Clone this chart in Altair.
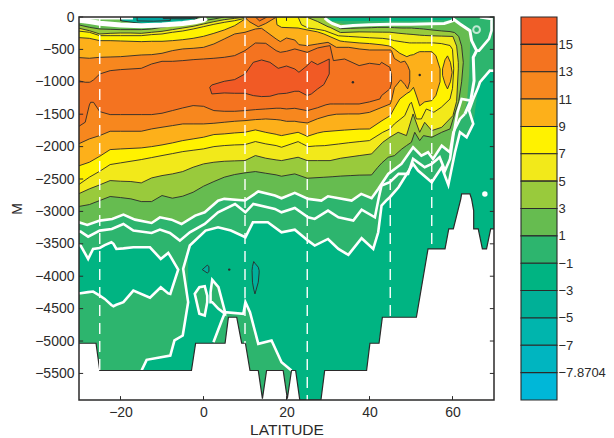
import json
import altair as alt
import pandas as pd

FONT = "Liberation Sans"
DARK = "#2b2a2a"
YMIN = -5910

C_M1 = "#00B482"; C_1 = "#2DB56E"; C_3 = "#66BC50"; C_5 = "#99CA3C"; C_7 = "#F2E91A"
C_9 = "#FFF200"; C_11 = "#FDB01A"; C_13 = "#F7871E"; C_15 = "#F47320"; C_T = "#F15A25"

BAR_COLORS = [C_T, C_15, C_13, C_11, C_9, C_7, C_5, C_3, C_1, C_M1, "#00B097", "#00B5AD", "#00B5C0", "#00B7D8"]
BAR_LABELS = ["15", "13", "11", "9", "7", "5", "3", "1", "−1", "−3", "−5", "−7", "−7.8704"]

X_TICKS = [-20, 0, 20, 40, 60]
Y_TICKS = [0, -500, -1000, -1500, -2000, -2500, -3000, -3500, -4000, -4500, -5000, -5500]

# ---- >-1 water
W_LAT = [-31,-15,-14.7,-13.7,-8,-7,-5,-3.8,-3.7,-3.3,0.5,3.5,6.6,10.1,11.9,15.5,18.8,22,25.2,26.8,30,32.5,34.9,38.1,40.9,42.1,42.9,44.9,47,50.5,51.7,55,57.4,59,60.6,61.8,63.4,65,66.2,69,71]
W_BOT = [5910,5910,5450,5290,5224,4990,4915,4400,3600,3527,3296,3245,3296,3399,3168,3168,3322,3281,3451,3527,3425,3579,3671,3414,3579,3322,2911,2781,2627,2267,2370,2550,2319,2591,2087,1779,1856,1650,1085,827,830]

# ---- cold loop on the left
L_LAT = [-31,-29.6,-27.8,-26.6,-25,-23.8,-22.2,-21.7,-21,-19.3,-16.9,-12.9,-10.3,-8.5,-8,-6.1]
L_TOP = [3500,3528,3733,3579,3564,3520,3476,3500,3579,3570,3553,3553,3733,3641,3690,3898]
L_BOT = [4260,4263,4245,4237,4300,4350,4445,4463,4440,4401,4221,4330,4170,4265,4273,3898]

# ---- lower warm patch
P_LAT = [2.4,4.4,5.2,9.6,10.1,11.2,13.2,16.4,18.8,21.2,22]
P_TOP = [5018,4684,4556,4581,4400,4556,5044,4993,5327,5455,5500]
P2_LAT = [-2.1,-1,0.3,0.9]
P2_TOP = [4270,4170,4155,4300]
P2_BOT = [4270,4580,4607,4400]
P3_LAT = [1.7,2.1,3.6,5.2]
P3_TOP = [4247,4057,4170,4556]
P3_BOT = [4400,4401,4504,4581]

# ---- contour T1
T1_LAT = [-31,-28,-25,-22,-19.3,-16.5,-12.5,-10.5,-7.7,-5.3,-2,0.3,3.5,5,10,13.2,17.2,18.8,22,25.2,28.4,30,35.7,38,40.5,42.1,44.5,47.7,50.5,52.5,54.1,55.3,57.4,59.4,60.2,61.8,62.6,63.5,64,64.3]
T1_TOP = [0,0,0,0,0,0,0,0,0,0,0,0,0,0,0,0,0,0,0,0,0,60,130,130,120,110,110,110,100,100,100,100,100,70,30,108,140,180,210,220]
T1_BOT = [3168,3209,3142,3116,3050,3127,3178,3091,3127,3194,3065,3014,2834,2806,2832,2693,2755,2797,2714,2807,2833,2766,2833,2730,2797,2653,2422,2267,2010,2139,2087,2190,1985,2087,1779,1573,1522,1300,900,300]

T3_LAT = [-31,-27.5,-25,-22.5,-20,-17.5,-15,-12.5,-10,-7.5,-5,-2.5,0,2.5,5,7.5,10,12.5,15,17.5,18.8,22,25,29,31,33,35.5,37.5,40.5,42,43,44.5,46,47.8,48.9,50.1,50.9,52.1,53,55,57.4,59.4,60.5,61.5,62.2,62.6]
T3_TOP = [108,159,185,190,195,195,195,185,159,134,113,93,57,31,0,0,0,0,0,0,0,0,0,0,100,180,175,170,165,160,160,160,165,170,170,170,175,180,185,200,215,225,240,300,450,700]
T3_BOT = [2935,2894,2832,2770,2786,2806,2848,2848,2755,2796,2765,2704,2611,2539,2472,2431,2405,2385,2411,2436,2457,2421,2488,2473,2465,2455,2447,2440,2437,2319,2250,2165,2139,2036,1985,1933,1779,1907,1830,1856,1779,1727,1500,1300,1000,700]

T5_LAT = [-31,-27.5,-25,-22.5,-20,-17.5,-15,-12.5,-10,-7.5,-5,-2.5,0,2.5,5,7.5,10,12.5,15,17.5,18.8,22.8,25,27.5,30,30.5,33,37.5,40.5,43.2,44.9,46.9,48.9,50.5,52.1,53.3,55,57.4,60.1,61,61.4]
T5_TOP = [159,211,262,252,247,247,252,236,221,195,170,144,108,72,41,21,5,0,0,0,0,0,5,70,150,160,240,230,232,234,235,250,262,270,280,285,290,295,300,450,700]
T5_BOT = [2755,2652,2590,2524,2534,2539,2560,2483,2447,2421,2385,2318,2267,2241,2226,2220,2215,2138,2179,2205,2216,2164,2216,2216,2216,2216,2180,2139,2113,1933,1856,1779,1830,1496,1779,1625,1753,1702,1522,1300,800]

T7_LAT = [-31,-27.5,-25,-22.5,-20,-15,-12.5,-10,-7.5,-5,-2.5,0,2.5,5,7.5,10,12.5,15,17.5,18.8,22.8,23.6,25.2,27,29.2,32.5,35,37.5,40,43.2,44.9,46,48.5,49.7,50.1,51.3,52.5,53.7,55.5,57.3,59.4,60,60.3]
T7_TOP = [211,236,288,288,288,288,272,262,236,216,185,149,113,82,57,21,0,0,0,0,0,120,170,185,210,290,300,310,320,330,345,365,390,400,400,400,400,400,400,410,440,500,800]
T7_BOT = [2627,2472,2380,2277,2251,2200,2169,2138,2108,2077,2056,2035,2000,1984,1974,1969,1922,1958,1984,2010,1923,1950,2000,1990,1985,1960,1940,1923,1907,1779,1728,1650,1522,1343,1315,1573,1573,1419,1470,1393,1265,1100,800]

T9_LAT = [-31,-27.5,-25,-22.5,-20,-15,-12.5,-10,-7.5,-5,-2.5,0,2.5,5,7.5,10,12.5,15,17.5,17.7,18.8,22.8,25,27.5,29,32.9,34,37.5,40,43,45,46.1,47.3,49,49.8,50.6,51.5,52.1,53.3,55,56,57]
T9_TOP = [314,329,365,365,370,380,375,375,365,350,329,298,252,200,134,31,0,0,0,120,160,170,200,230,262,370,380,400,410,430,450,500,560,612,590,581,550,535,535,535,596,800]
T9_BOT = [2318,2241,2149,2046,2036,2020,2000,1974,1943,1907,1881,1855,1814,1804,1789,1778,1742,1780,1810,1815,1830,1779,1841,1790,1770,1750,1745,1730,1728,1600,1522,1393,1265,1180,1150,1085,1250,1370,1310,1290,1210,1000]

T9B_LAT = [57.6,58.2,58.8,59.5,59.9]
T9B_TOP = [800,660,600,700,850]
T9B_BOT = [900,1030,1110,1000,860]

T11_LAT = [-31,-27.5,-25,-22.5,-20,-15,-12.5,-10,-7.5,-5,-2.5,0,2.5,5,7.5,10,12.5,14,15,17.5,18.5,20,22,23,25,27.5,30,32,35,37.5,40,45,45.3,46,47.5,48.5,49.2,49.7]
T11_TOP = [622,637,622,617,612,586,581,560,519,493,483,468,416,339,262,236,185,175,221,339,380,324,355,427,442,416,391,468,468,493,509,509,520,640,700,680,750,830]
T11_BOT = [1984,1881,1830,1763,1763,1763,1727,1701,1676,1650,1650,1650,1640,1624,1609,1599,1583,1578,1573,1583,1590,1610,1609,1620,1635,1570,1522,1500,1496,1496,1471,1342,1290,1090,970,1040,1110,1000]

T11B_LAT = [10,11,13.2,15,17.6]
T11B_BOT = [5,70,150,100,0]
T13B_LAT = [12.5,13.5,15.3]
T13B_BOT = [0,60,0]

T13_LAT = [-31,-28.5,-27.5,-27.2,-26.5,-25,-22.5,-20,-15,-12.5,-10,-7.5,-5,-2.5,0,2.5,5,7.5,10,12.5,15,17.5,18.5,20,22,25,27.5,29.5,30.5,31.3,34,37.5,40,42.5,42.9,44.9,45.3]
T13_TOP = [971,1007,1007,1000,971,879,828,812,792,725,684,684,673,658,648,637,622,596,519,401,406,519,545,529,493,545,478,452,442,673,648,750,714,735,699,776,900]
T13_BOT = [1727,1624,1357,1316,1316,1460,1506,1506,1506,1506,1485,1444,1403,1367,1378,1444,1455,1455,1444,1429,1419,1408,1408,1419,1409,1445,1400,1355,1342,1342,1342,1342,1310,1265,1213,1110,1020]

T15_LAT = [1.5,2,5,7.5,10,12,14,16,18,20,22,23,25,26,27.5,29,30.3]
T15_TOP = [1085,1049,992,966,879,699,663,699,792,756,802,853,750,684,735,689,648]
T15_BOT = [1085,1187,1172,1177,1177,1213,1228,1223,1187,1177,1146,1146,1213,1187,1110,1043,879]

# ---- cold surface patches and small deep patches
S1_LAT = [-19.8,-15,-10.5,-6,-1.7]
S1_BOT = [60,100,110,90,40]
S2_LAT = [-16,-12,-8]
S2_BOT = [60,65,55]
S3_LAT = [-9.7,-5,-1.3]
S3_BOT = [25,30,15]
S4_LAT = [30.5,40,50,60]
S4_BOT = [60,60,60,40]
D1_LAT = [-0.3,0.9,1.3]
D1_TOP = [3898,3830,3850]
D1_BOT = [3898,3950,3930]
D2_LAT = [11.7,11.8,12.1,12.4,13.2,13.4]
D2_TOP = [3913,3850,3774,3800,3861,3913]
D2_BOT = [3913,4093,4200,4273,4093,3950]
DOT_LAT = [36, 52.1, 6.2]
DOT_DEP = [1007, 894, 3898]

# ---- white contours
W0_LAT = [-30.5,-27.5,-25,-20,-15,-10,-5,-2,0,0.7]
W0_DEP = [45,70,95,125,135,125,100,75,45,15]
W0B_LAT = [-30,-17]
W0B_DEP = [15,15]
W0C_LAT = [29.2,30,31,33,36,40,45,50,55,58,60,60.2,61.8,64.2,64.6,65.8,65,65.2,64.4,63]
W0C_DEP = [15,60,100,150,130,120,110,110,105,100,60,31,108,211,365,519,622,982,1290,1496]
W0D_LAT = [65.8,66.4,68.8,69.4,69.4,66.6]
W0D_DEP = [519,519,339,211,31,5]
W1_LAT = [-31,-30,-28,-25,-22,-19.3,-16.5,-12.5,-10.5,-7.7,-5.3,-2,0.3,3.5,5,10,13.2,17.2,18.8,22,25.2,28.4,30,35.7,38,40.5,42.1,44.5,47.7,50.5,52.5,54.1,55.3,57.4,59.4,60.2,61.8,63]
W1_DEP = [3168,3168,3209,3142,3116,3050,3127,3178,3091,3127,3194,3065,3014,2834,2806,2832,2693,2755,2797,2714,2807,2833,2766,2833,2730,2797,2653,2422,2267,2010,2139,2087,2190,1985,2087,1779,1573,1496]
W2_LAT = [-31,-29.6,-27.8,-25,-22.1,-19.3,-16.9,-12.5,-10.5,-8.1,-5.7,-3.3,0.3,3.5,7.6,10.1,12,17.2,18.8,22,25.2,26.8,30,32.5,36.1,38.1,41.3,42.2,42.9,44.9,47,49.3,50.5,53.3,55,56.9,58.2,59.4,60.2,61.2,62.2,64.4]
W2_DEP = [3312,3312,3389,3296,3271,3194,3296,3332,3281,3332,3451,3322,3194,3014,2885,3014,2885,2962,3014,2947,3091,3116,2988,3091,3142,2973,3091,2800,2601,2550,2420,2420,2190,2319,2267,2164,2370,2190,1830,1470,1265,1290]
W3_LAT = [-14.9,-13.7,-8,-7,-5,-3.7,-4.9,-3.3,0.5,3.5,6.6,10.1,11.9,15.5,18.8,22,25.2,26.8,30,32.5,34.9,38.1,40.9,42.1,42.9,44,44.9,47,50.5,51.7,55,57.4,59,60.6,61.8,63.4,65,64,65,66.2,66.6,69,71]
W3_DEP = [5450,5290,5224,4990,4915,4400,3887,3527,3296,3245,3296,3399,3168,3168,3322,3281,3451,3527,3425,3579,3671,3414,3579,3322,2911,2833,2781,2627,2267,2370,2550,2319,2591,2087,1779,1856,1650,1445,1265,1085,1007,827,830]
W4_LAT = [2.4,4.4,5.2,9.6,10.1,11.2,13.2,16.4,18.8,21.2]
W4_DEP = [5018,4684,4556,4581,4400,4556,5044,4993,5327,5455]
RING_LAT = [65.8]; RING_DEP = [195]
BLOB_LAT = [67.8]; BLOB_DEP = [2730]

# ---- ocean floor
B_LAT = [-31,-25.9,-25,-2.9,-1.9,5.2,6,8,9.2,10.1,11.2,13.2,14.2,15.2,19.2,20.2,21.2,22.2,23.2,28.3,29.2,39.3,40.1,42.3,43.1,51.3,54.1,58.2,59.1,60.2,62,62.2,64.2,64.6,65.1,65.11,66.2,67.2,68.2,69.2,71]
B_DEP = [5034,5034,5455,5455,5034,5034,4633,4633,5034,5034,5455,5455,5890,5455,5455,5890,5455,5455,5910,5910,5455,5455,5034,5034,4633,4633,3579,3579,3270,3270,2808,2729,2729,2808,2988,3270,3270,3579,3579,3270,3270]

# ---- dashed sections
DASH_LAT = [-25, 10, 25, 45, 55]
DASH_END = [5455, 5034, 5910, 4633, 3579]

xs = alt.Scale(domain=[-30, 70], nice=False, zero=False)
ys = alt.Scale(domain=[YMIN, 0], nice=False, zero=False)
X_AXIS = alt.Axis(values=X_TICKS, grid=False, domain=False, tickSize=0, labelPadding=5, format="d",
                  labelFontSize=14, titleFontSize=15.5, labelFont=FONT, titleFont=FONT,
                  labelColor=DARK, titleColor=DARK, titleFontWeight="normal", titlePadding=3)
Y_AXIS = alt.Axis(values=Y_TICKS, grid=False, domain=False, tickSize=0, labelPadding=5, format="d",
                  labelFontSize=14, titleFontSize=14, labelFont=FONT, titleFont=FONT,
                  labelColor=DARK, titleColor=DARK, titleFontWeight="normal", titlePadding=10)
X = alt.X("lat:Q", scale=xs, title="LATITUDE", axis=X_AXIS)
Y = alt.Y("a:Q", scale=ys, title="M", axis=Y_AXIS)
Y2 = alt.Y2("b:Q")


def area(lat, top, bot, color, stroke=DARK, sw=0.9):
    if not isinstance(top, list):
        top = [top] * len(lat)
    if not isinstance(bot, list):
        bot = [bot] * len(lat)
    df = pd.DataFrame({"lat": lat, "a": [-v for v in top], "b": [-v for v in bot]})
    kw = dict(color=color, clip=True, opacity=1)
    if stroke:
        kw.update(stroke=stroke, strokeWidth=sw)
    return alt.Chart(df).mark_area(**kw).encode(x=X, y=Y, y2=Y2)


def path(lat, dep, color="white", sw=2.6):
    df = pd.DataFrame({"lat": lat, "a": [-v for v in dep], "i": range(len(lat))})
    return alt.Chart(df).mark_line(color=color, strokeWidth=sw, clip=True).encode(
        x=X, y=Y, order=alt.Order("i:Q"))


base = alt.Chart(pd.DataFrame({"lat": [-30, 70], "a": [0, 0], "b": [YMIN, YMIN]})).mark_area(color=C_M1).encode(
    x=X, y=Y, y2=Y2)

layers = [
    base,
    area(W_LAT, 0, W_BOT, C_1, stroke=None),
    area(L_LAT, L_TOP, L_BOT, C_M1, stroke="white", sw=2.6),
    area(P_LAT, P_TOP, 5910, C_1, stroke=None),
    area(P2_LAT, P2_TOP, P2_BOT, C_1, stroke="white", sw=2.6),
    area(P3_LAT, P3_TOP, P3_BOT, C_1, stroke="white", sw=2.6),
    area(D1_LAT, D1_TOP, D1_BOT, "#00AF9B"),
    area(D2_LAT, D2_TOP, D2_BOT, "#00AF9B"),
    area(T1_LAT, T1_TOP, T1_BOT, C_3, stroke=None),
    area(S4_LAT, 0, S4_BOT, C_M1, stroke=None),
    area(S1_LAT, 0, S1_BOT, "#00B097"),
    area(S2_LAT, 0, S2_BOT, "#00A4A0"),
    area(S3_LAT, 0, S3_BOT, "#00696B"),
    area(T3_LAT, T3_TOP, T3_BOT, C_5),
    area(T5_LAT, T5_TOP, T5_BOT, C_7),
    area(T7_LAT, T7_TOP, T7_BOT, C_9),
    area(T9_LAT, T9_TOP, T9_BOT, C_11),
    area(T9B_LAT, T9B_TOP, T9B_BOT, C_11),
    area(T11B_LAT, 0, T11B_BOT, C_13),
    area(T13B_LAT, 0, T13B_BOT, C_15),
    area(T11_LAT, T11_TOP, T11_BOT, C_13),
    area(T13_LAT, T13_TOP, T13_BOT, C_15),
    area(T15_LAT, T15_TOP, T15_BOT, C_T),
    path(W0_LAT, W0_DEP, sw=5),
    path(W0B_LAT, W0B_DEP, sw=3),
    path(W0C_LAT, W0C_DEP, sw=3),
    path(W0D_LAT, W0D_DEP, sw=2.6),
    path(W1_LAT, W1_DEP),
    path(W2_LAT, W2_DEP),
    path(W3_LAT, W3_DEP),
    path(W4_LAT, W4_DEP),
]

ring = pd.DataFrame({"lat": RING_LAT, "a": [-v for v in RING_DEP]})
layers.append(alt.Chart(ring).mark_point(filled=False, color="white", strokeWidth=2, size=45).encode(x=X, y=Y))
blob = pd.DataFrame({"lat": BLOB_LAT, "a": [-v for v in BLOB_DEP]})
layers.append(alt.Chart(blob).mark_point(filled=True, color="white", opacity=1, size=30).encode(x=X, y=Y))
dots = pd.DataFrame({"lat": DOT_LAT, "a": [-v for v in DOT_DEP]})
layers.append(alt.Chart(dots).mark_point(filled=True, color=DARK, opacity=1, size=6).encode(x=X, y=Y))

layers.append(area(B_LAT, B_DEP, 5910, "white", stroke=None))
layers.append(path(B_LAT, B_DEP, color=DARK, sw=1.2))

dash = pd.DataFrame({"lat": DASH_LAT, "a": [0] * 5, "b": [-v for v in DASH_END]})
layers.append(alt.Chart(dash).mark_rule(color="white", strokeWidth=1.4, strokeDash=[11, 7]).encode(x=X, y=Y, y2=Y2))

# frame and inward ticks
frame = pd.DataFrame({"lat": [-30], "l2": [70], "a": [0], "b": [YMIN]})
layers.append(alt.Chart(frame).mark_rect(fill=None, stroke=DARK, strokeWidth=1.5).encode(
    x=X, x2=alt.X2("l2:Q"), y=Y, y2=Y2))
xt = pd.DataFrame({"lat": X_TICKS})
for lo, hi in ((YMIN, YMIN + 60), (-60, 0)):
    layers.append(alt.Chart(xt.assign(a=lo, b=hi)).mark_rule(color=DARK, strokeWidth=1).encode(x=X, y=Y, y2=Y2))
yt = pd.DataFrame({"a": Y_TICKS})
for lo, hi in ((-30, -29), (69, 70)):
    layers.append(alt.Chart(yt.assign(lat=lo, l2=hi)).mark_rule(color=DARK, strokeWidth=1).encode(
        x=X, x2=alt.X2("l2:Q"), y=Y))

main = alt.layer(*layers).properties(width=415, height=383)

n = len(BAR_COLORS)
bar_df = pd.DataFrame({"lo": [n - i - 1 for i in range(n)], "hi": [n - i for i in range(n)], "c": BAR_COLORS})
label_expr = "%s[datum.value - 1]" % json.dumps(BAR_LABELS[::-1], ensure_ascii=False)
bar = alt.Chart(bar_df).mark_rect(stroke=DARK, strokeWidth=1.1).encode(
    x=alt.value(0), x2=alt.value(36),
    y=alt.Y("lo:Q", scale=alt.Scale(domain=[0, n], nice=False, zero=False), title=None,
            axis=alt.Axis(orient="right", values=list(range(1, n)), labelExpr=label_expr, grid=False,
                          domain=False, tickSize=0, labelPadding=1, labelFontSize=13, labelFont=FONT,
                          labelColor=DARK)),
    y2="hi:Q",
    color=alt.Color("c:N", scale=None),
).properties(width=36, height=383)

chart = alt.hconcat(main, bar, spacing=25).properties(
    padding={"left": 2, "top": 2, "right": 0, "bottom": 0}
).configure_view(stroke=None)

chart.save("out.html", embed_options={"renderer": "svg", "actions": False})
